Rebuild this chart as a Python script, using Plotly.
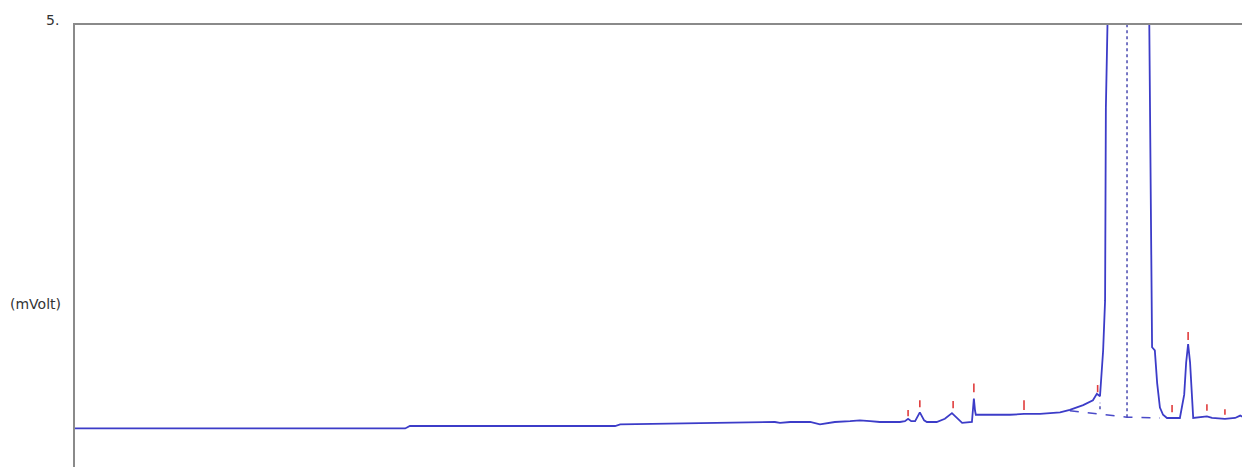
import plotly.graph_objects as go

# Chromatogram signal (time in min, signal in mV)
time_min = [0.0, 8.43, 8.55, 13.79, 13.92, 17.75, 17.87, 18.0, 18.26, 18.51, 18.77, 19.02,
            19.40, 19.79, 20.04, 20.30, 20.55, 21.06, 21.19, 21.27, 21.35, 21.45, 21.57,
            21.68, 21.75, 22.0, 22.21, 22.39, 22.55, 22.65, 22.90, 22.95, 22.98, 23.00,
            23.50, 23.87, 24.23, 24.64, 25.15, 25.40, 25.74, 25.99, 26.09, 26.17, 26.25,
            26.30, 26.32, 26.35, 26.60, 26.89, 27.20, 27.42, 27.50, 27.57, 27.63, 27.70,
            27.78, 27.88, 28.01, 28.21, 28.32, 28.37, 28.42, 28.47, 28.55, 28.72, 28.90,
            29.03, 29.36, 29.62, 29.75, 29.87, 30.0]
signal_mv = [-0.02, -0.02, 0.01, 0.01, 0.03, 0.05, 0.06, 0.05, 0.06, 0.06, 0.06, 0.03,
             0.06, 0.07, 0.08, 0.07, 0.06, 0.06, 0.07, 0.10, 0.07, 0.07, 0.18,
             0.08, 0.06, 0.06, 0.10, 0.17, 0.09, 0.05, 0.06, 0.35, 0.20, 0.15,
             0.15, 0.15, 0.16, 0.16, 0.18, 0.21, 0.27, 0.33, 0.41, 0.38, 0.95,
             1.57, 3.97, 5.5, 11.0, 13.0, 11.0, 5.5, 0.99, 0.95, 0.54, 0.24,
             0.15, 0.11, 0.11, 0.11, 0.40, 0.80, 1.03, 0.80, 0.11, 0.12, 0.13,
             0.11, 0.10, 0.11, 0.14, 0.11, 0.11]

# Peak markers (red ticks)
peak_times = [21.27, 21.57, 22.42, 22.95, 24.23, 26.11, 28.01, 28.42, 28.90, 29.36]
peak_tick_lo = [0.13, 0.245, 0.23, 0.43, 0.21, 0.43, 0.18, 1.08, 0.20, 0.15]
peak_tick_hi = [0.21, 0.33, 0.32, 0.54, 0.33, 0.52, 0.27, 1.18, 0.28, 0.22]

# Integration baseline (dashed)
base_times = [25.40, 26.86, 27.70]
base_mv = [0.20, 0.12, 0.11]

# Peak separation drop lines
drop_time = 26.86
drop_lo, drop_hi = 0.12, 6.0
small_drop_time = 26.17
small_drop_lo, small_drop_hi = 0.22, 0.30

tick_x, tick_y = [], []
for t, lo, hi in zip(peak_times, peak_tick_lo, peak_tick_hi):
    tick_x += [t, t, None]
    tick_y += [lo, hi, None]

fig = go.Figure()
fig.add_trace(go.Scatter(x=base_times, y=base_mv, mode="lines",
                         line=dict(color="#4a4ac8", width=1.5, dash="dash"),
                         hoverinfo="skip"))
fig.add_trace(go.Scatter(x=[drop_time, drop_time], y=[drop_lo, drop_hi], mode="lines",
                         line=dict(color="#4a4ab0", width=1.5, dash="dot"),
                         hoverinfo="skip"))
fig.add_trace(go.Scatter(x=[small_drop_time, small_drop_time], y=[small_drop_lo, small_drop_hi],
                         mode="lines", line=dict(color="#4a4ab0", width=1.5, dash="dot"),
                         hoverinfo="skip"))
fig.add_trace(go.Scatter(x=time_min, y=signal_mv, mode="lines",
                         line=dict(color="#3c3cc8", width=1.8)))
fig.add_trace(go.Scatter(x=tick_x, y=tick_y, mode="lines",
                         line=dict(color="#e03c3c", width=1.6), hoverinfo="skip"))

fig.update_layout(
    width=1242, height=459,
    margin=dict(l=67, r=0, t=17, b=0),
    paper_bgcolor="white", plot_bgcolor="white",
    showlegend=False,
    font=dict(family="DejaVu Sans, sans-serif", size=13, color="#333333"),
    xaxis=dict(range=[0, 30], side="top", showline=True, linecolor="#8a8a8a", linewidth=2,
               showgrid=False, zeroline=False, showticklabels=False, ticks=""),
    yaxis=dict(range=[-0.5, 5.0], showline=True, linecolor="#8a8a8a", linewidth=2,
               showgrid=False, zeroline=False, showticklabels=False, ticks=""),
    annotations=[
        dict(text="5.", xref="paper", yref="paper", x=0, y=1, xanchor="right", yanchor="middle",
             xshift=-14, yshift=5, showarrow=False, font=dict(size=14, color="#333333")),
        dict(text="(mVolt)", xref="paper", yref="paper", x=0, y=0.368, xanchor="right",
             yanchor="middle", xshift=-12, showarrow=False, font=dict(size=14, color="#333333")),
    ],
)

fig.write_html("out.html", config={"displayModeBar": False})
